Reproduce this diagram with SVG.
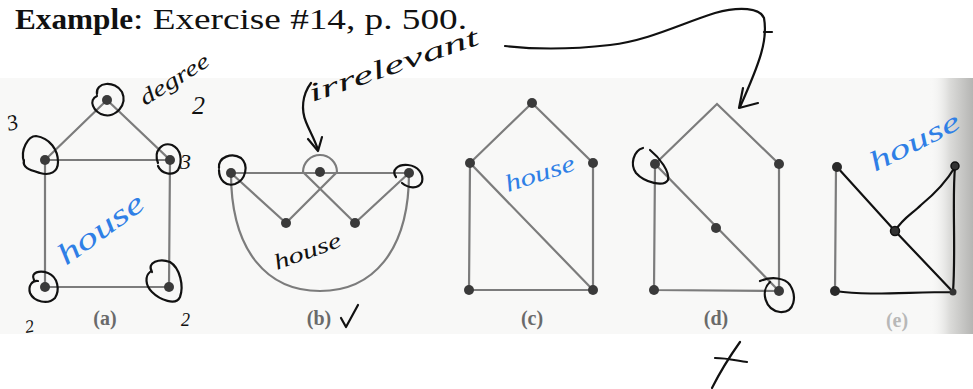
<svg xmlns="http://www.w3.org/2000/svg" width="973" height="389" viewBox="0 0 973 389">
<defs>
<linearGradient id="shade" x1="0" y1="0" x2="1" y2="0">
<stop offset="0" stop-color="#f7f7f6" stop-opacity="0"/>
<stop offset="0.45" stop-color="#dcdcda"/>
<stop offset="1" stop-color="#b5b5b3"/>
</linearGradient>
<style>
.e{stroke:#7c7c7c;stroke-width:2.2;fill:none;stroke-linecap:round}
.v{fill:#3a3a3a}
.lbl{font-family:"Liberation Serif",serif;font-size:20px;font-weight:bold;fill:#6a6a6a;text-anchor:middle}
.ink{stroke:#111;stroke-width:2.2;fill:none;stroke-linecap:round;stroke-linejoin:round}
.hw{font-family:"Liberation Serif",serif;font-style:italic;fill:#111}
.hb{font-family:"Liberation Serif",serif;font-style:italic;fill:#2f7fe6}
</style>
</defs>
<rect width="973" height="389" fill="#fff"/>
<rect x="0" y="78" width="973" height="256" fill="#f8f8f7"/>
<rect x="930" y="78" width="43" height="256" fill="url(#shade)"/>

<text x="15" y="29" font-family="'Liberation Serif',serif" font-size="30" font-weight="bold" fill="#111" textLength="118" lengthAdjust="spacingAndGlyphs">Example</text>
<text x="133" y="29" font-family="'Liberation Serif',serif" font-size="30" fill="#111" textLength="334" lengthAdjust="spacingAndGlyphs">: Exercise #14, p. 500.</text>

<!-- Graph (a) -->
<g id="graph-a">
<g id="a-edges">
<path class="e" d="M45,160 L107,100 L170,160 Z M45,160 L45,287 L169,287 L170,160"/>
</g>
<g id="a-top"><circle class="v" cx="107" cy="100" r="5"/></g>
<g id="a-left"><circle class="v" cx="45" cy="160" r="5"/></g>
<g id="a-right"><circle class="v" cx="170" cy="160" r="5"/></g>
<g id="a-bl"><circle class="v" cx="45" cy="287" r="5"/></g>
<g id="a-br"><circle class="v" cx="169" cy="287" r="5"/></g>
<text class="lbl" x="105" y="325">(a)</text>
</g>

<!-- Graph (b) -->
<g id="graph-b">
<g id="b-edges">
<path class="e" d="M231,173 L409,173 M231,173 L286,223 L337,172 A17,17 0 0 0 303,172 L355,223 L409,173 M231,173 C231,252 268,291 320,291 C372,291 409,252 409,173"/>
</g>
<g id="b-left"><circle class="v" cx="231" cy="173" r="5"/></g>
<g id="b-mid"><circle class="v" cx="320" cy="172" r="5"/></g>
<g id="b-right"><circle class="v" cx="409" cy="173" r="5"/></g>
<g id="b-ll"><circle class="v" cx="286" cy="223" r="5"/></g>
<g id="b-lr"><circle class="v" cx="355" cy="223" r="5"/></g>
<text class="lbl" x="319" y="325">(b)</text>
</g>

<!-- Graph (c) -->
<g id="graph-c">
<g id="c-edges">
<path class="e" d="M470,163 L532,103 L593,163 L593,290 L469,290 L470,163 L593,290"/>
</g>
<g id="c-top"><circle class="v" cx="532" cy="103" r="5"/></g>
<g id="c-left"><circle class="v" cx="470" cy="163" r="5"/></g>
<g id="c-right"><circle class="v" cx="593" cy="163" r="5"/></g>
<g id="c-bl"><circle class="v" cx="469" cy="290" r="5"/></g>
<g id="c-br"><circle class="v" cx="593" cy="290" r="5"/></g>
<text class="lbl" x="532" y="325">(c)</text>
</g>

<!-- Graph (d) -->
<g id="graph-d">
<g id="d-edges">
<path class="e" d="M655,164 L717,104 L779,164 L779,291 L654,290 L655,164 L779,291"/>
</g>
<g id="d-left"><circle class="v" cx="655" cy="164" r="5"/></g>
<g id="d-right"><circle class="v" cx="779" cy="164" r="5"/></g>
<g id="d-mid"><circle class="v" cx="716" cy="228" r="5"/></g>
<g id="d-bl"><circle class="v" cx="654" cy="290" r="5"/></g>
<g id="d-br"><circle class="v" cx="779" cy="291" r="5"/></g>
<text class="lbl" x="716" y="325">(d)</text>
</g>

<!-- Graph (e) -->
<g id="graph-e">
<g id="e-edges">
<path class="e" d="M836,167 L835,291"/>
<path class="ink" d="M837,167 L895,231 L953,292 M895,231 C903,218 912,214 921,205 C932,196 945,184 955,167 M955,167 C952,200 956,250 953,292 M835,291 C870,296 905,292 953,292"/>
</g>
<g id="e-tl"><circle cx="837" cy="167" r="5" fill="#2a2a2a"/></g>
<g id="e-tr"><circle cx="955" cy="166" r="4" fill="#333" stroke="#111" stroke-width="1.5"/></g>
<g id="e-mid"><circle cx="895" cy="231" r="4.5" fill="#333" stroke="#111" stroke-width="1.5"/></g>
<g id="e-bl"><circle cx="835" cy="291" r="5" fill="#2a2a2a"/></g>
<g id="e-br"><circle cx="953" cy="292" r="3.5" fill="#333"/></g>
<text class="lbl" x="897" y="327" style="fill:#b8b8b8">(e)</text>
</g>

<!-- Handwritten annotations -->
<g id="annotations">
<path class="ink" d="M97,94 C95,82 115,80 122,92 C128,105 115,118 104,115 C93,112 88,100 97,96"/>
<path class="ink" d="M24,162 C20,150 28,136 36,136 C50,138 58,150 58,162 C58,172 50,176 40,173 C30,170 22,168 24,160"/>
<path class="ink" d="M158,163 C153,150 163,142 172,145 C181,149 183,161 178,170 C172,177 161,173 158,166"/>
<path class="ink" d="M34,280 C30,272 40,270 48,273 C58,277 60,290 55,298 C48,305 34,302 30,293 C28,286 32,280 38,281"/>
<path class="ink" d="M152,272 C146,262 160,258 170,262 C180,268 184,286 180,297 C176,306 160,300 152,292 C145,285 145,276 150,272"/>
<text class="hw" x="9" y="131" font-size="22" transform="rotate(-15 9 131)">3</text>
<text class="hw" x="180" y="169" font-size="22">3</text>
<text class="hw" x="26" y="333" font-size="18" transform="rotate(-10 26 333)">2</text>
<text class="hw" x="181" y="326" font-size="18">2</text>
<text class="hw" x="145" y="106" font-size="22" transform="rotate(-32 145 106)" textLength="78" lengthAdjust="spacingAndGlyphs">degree</text>
<text class="hw" x="192" y="114" font-size="26">2</text>
<text class="hb" x="66" y="266" font-size="30" transform="rotate(-36 66 266)" textLength="100" lengthAdjust="spacingAndGlyphs">house</text>

<path class="ink" d="M219,168 C218,157 232,152 241,158 C249,165 246,180 235,184 C226,187 219,180 219,170"/>
<path class="ink" d="M396,177 C391,170 398,164 408,165 C418,166 424,174 422,182 C418,190 408,188 402,183"/>
<text class="hw" x="277" y="270" font-size="22" transform="rotate(-20 277 270)" textLength="70" lengthAdjust="spacingAndGlyphs">house</text>
<path class="ink" d="M341,318 L346,327 L358,305"/>

<path class="ink" d="M311,83 C302,95 301,110 306,122 C310,132 315,140 318,150"/>
<path class="ink" d="M308,139 L318,151 L322,137"/>
<text class="hw" x="312" y="102" font-size="26" transform="rotate(-19 312 102)" textLength="178" lengthAdjust="spacingAndGlyphs">irrelevant</text>

<path class="ink" d="M505,46 C540,50 575,49 610,45 C650,40 680,24 715,13 C740,6 760,8 764,18 C768,40 760,62 740,107"/>
<path class="ink" d="M743,88 L739,108 L758,103"/>
<path class="ink" d="M764,32 L772,32"/>

<text class="hb" x="508" y="192" font-size="24" transform="rotate(-18 508 192)" textLength="72" lengthAdjust="spacingAndGlyphs">house</text>

<path class="ink" d="M643,148 C633,151 630,165 636,173 C645,183 664,187 668,180 C670,172 660,158 650,150"/>
<path class="ink" d="M770,282 C760,291 765,310 780,312 C795,313 797,296 790,285 C785,278 772,276 760,281"/>
<path class="ink" d="M740,342 C730,356 720,372 712,388 M715,358 C728,358 738,361 747,362"/>

<text class="hb" x="875" y="172" font-size="28" transform="rotate(-27 875 172)" textLength="98" lengthAdjust="spacingAndGlyphs">house</text>
</g>
</svg>
